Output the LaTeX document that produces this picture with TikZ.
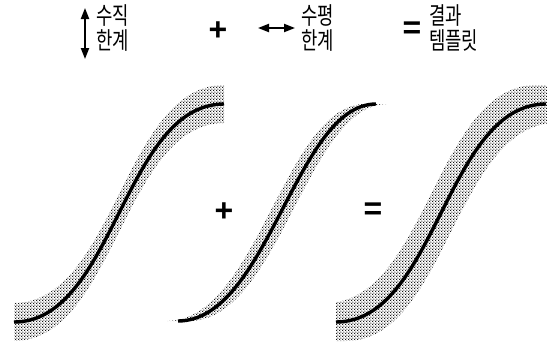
\documentclass[tikz,border=0pt]{standalone}
\usepackage{fontspec}
\setmainfont{Liberation Sans}
\newfontfamily\cjk[FakeStretch=0.74]{Noto Sans CJK KR}
\usetikzlibrary{arrows.meta,patterns.meta}
\tikzdeclarepattern{name=stip, bottom left={(0pt,0pt)}, top right={(3.2pt,3.2pt)}, tile size={(3.2pt,3.2pt)},
  code={\pgfpathcircle{\pgfqpoint{0.8pt}{0.8pt}}{0.78pt}\pgfpathcircle{\pgfqpoint{2.4pt}{2.4pt}}{0.78pt}\pgfusepath{fill}}}
\begin{document}
\begin{tikzpicture}[x=1pt,y=-1pt,
  curve/.style={line width=3.4pt},
  band/.style={pattern=stip, pattern color=black},
  lab/.style={font=\cjk\fontsize{24}{25}\selectfont, anchor=north west, inner sep=0pt, align=left},
  op/.style={font=\bfseries\fontsize{32}{32}\selectfont, inner sep=0pt},
  dbl/.style={line width=2pt, {Triangle[width=8pt,length=11pt]}-{Triangle[width=8pt,length=11pt]}}]
\useasboundingbox (0,0) rectangle (547,346);
% header
\coordinate (v1) at (85,8);
\coordinate (v2) at (85,59);
\draw[dbl] (v1) -- (v2);
\node[lab] (t1) at (96,4) {수직\\한계};
\node[op] (p1) at (218,31) {+};
\coordinate (h1) at (258,28);
\coordinate (h2) at (295,28);
\draw[dbl] (h1) -- (h2);
\node[lab] (t2) at (301,4) {수평\\한계};
\node[op] (e1) at (412,30) {=};
\node[lab] (t3) at (429,4) {결과\\템플릿};
% panel 1: vertical band
\fill[band] (14,303) .. controls (114,303) and (124,85) .. (224,85) -- (224,123)
  .. controls (124,123) and (114,341) .. (14,341) -- cycle;
\draw[curve] (14,322) .. controls (114,322) and (124,104) .. (224,104);
% panel 2: horizontal band
\fill[band] (167,321) .. controls (257,321) and (285,104) .. (365,104) -- (387,104)
  .. controls (307,104) and (279,321) .. (189,321) -- cycle;
\draw[curve] (178,321) .. controls (268,321) and (296,104) .. (376,104);
% panel 3: combined band
\begin{scope}
\clip (336,0) rectangle (547,346);
\fill[band] (326,303) .. controls (426,303) and (436,85) .. (536,85) -- (556,85) -- (556,123)
  .. controls (456,123) and (446,341) .. (346,341) -- (326,341) -- cycle;
\end{scope}
\draw[curve] (336,322) .. controls (436,322) and (446,104) .. (546,104);
% operators
\node[op] (p2) at (224,212) {+};
\node[op] (e2) at (373,211) {=};
\end{tikzpicture}
\end{document}
